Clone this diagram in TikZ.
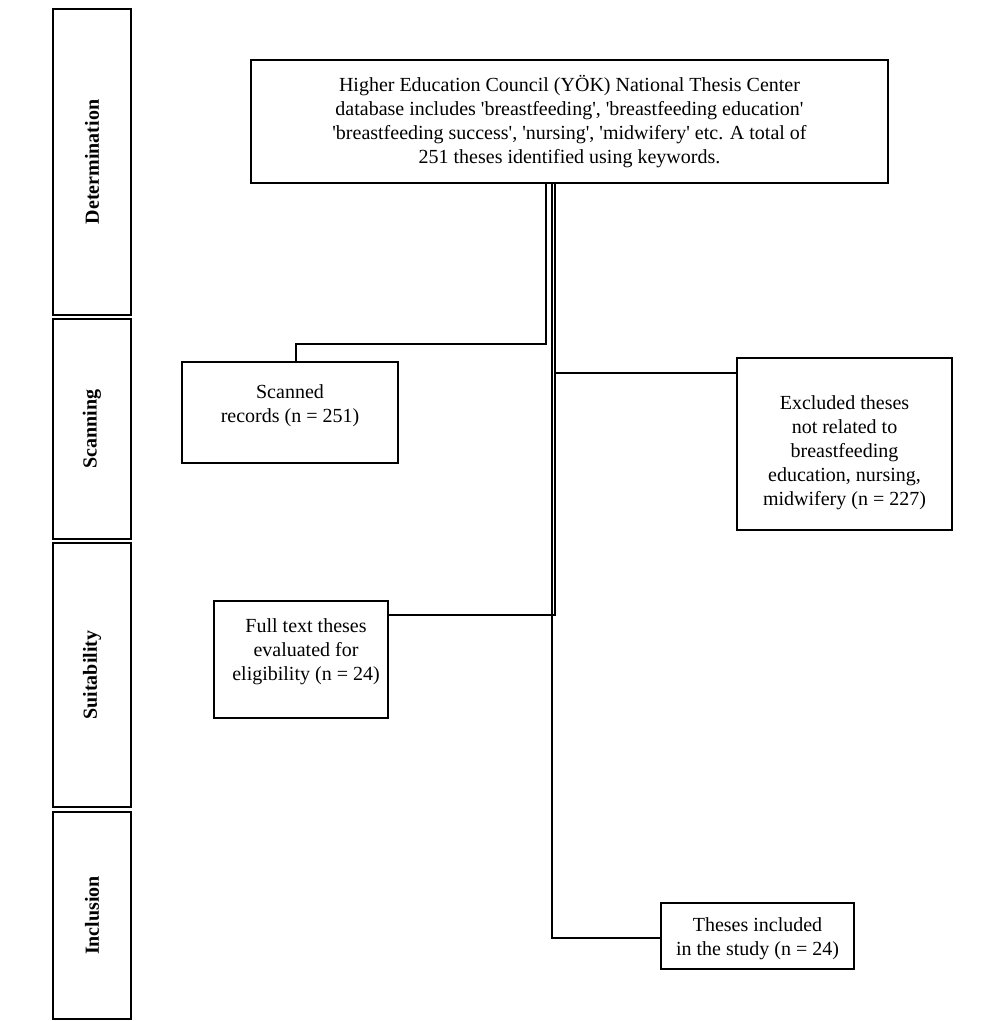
\documentclass[tikz,border=0pt]{standalone}
\usepackage{fontspec}
\setmainfont{Liberation Serif}
\usetikzlibrary{positioning, calc}

\newcommand{\sq}{\textquotesingle}

\begin{document}
\begin{tikzpicture}[x=0.5pt, y=-0.5pt,
        stagebox/.style={draw, line width=1.2pt, rotate=90, inner sep=0pt,
            font=\bfseries\fontsize{10}{12}\selectfont, minimum height=39pt},
        flowbox/.style={draw, line width=1.2pt, align=center, inner sep=0pt,
            font=\fontsize{10}{12}\selectfont},
        link/.style={line width=1pt}]
    \useasboundingbox (0,0) rectangle (1000,1021);
    % stages on the left
    \node[stagebox, minimum width=153pt] (determination) at (92,162) {Determination};
    \node[stagebox, minimum width=110pt] (scanning) at (92,429) {Scanning};
    \node[stagebox, minimum width=132pt] (suitability) at (92,675) {Suitability};
    \node[stagebox, minimum width=103.5pt] (inclusion) at (92,915.5) {Inclusion};
    % flow boxes
    \node[flowbox, minimum width=318.5pt, minimum height=61.5pt] (top) at (569.5,121.5)
        {Higher Education Council (YÖK) National Thesis Center\\
         database includes \sq breastfeeding\sq, \sq breastfeeding education\sq\\
         \sq breastfeeding success\sq, \sq nursing\sq, \sq midwifery\sq\ etc. A total of\\
         251 theses identified using keywords.};
    \node[flowbox, minimum width=108pt, minimum height=50.5pt] (scanned) at (290,412.5)
        {Scanned\\ records (n = 251)\rule[-9pt]{0pt}{9pt}};
    \node[flowbox, minimum width=107.5pt, minimum height=86pt] (excluded) at (844.5,444)
        {\rule{0pt}{16pt}Excluded theses\\ not related to\\ breastfeeding\\ education, nursing,\\ midwifery (n = 227)};
    \node[flowbox, minimum width=87pt, minimum height=58.5pt] (fulltext) at (301,659.5)
        {\hspace*{5pt}Full text theses\\ \hspace*{5pt}evaluated for\\ \hspace*{5pt}eligibility (n = 24)\rule[-10pt]{0pt}{10pt}};
    \node[flowbox, minimum width=96.5pt, minimum height=33pt] (included) at (757.5,936)
        {\rule{0pt}{9.5pt}Theses included\\ in the study (n = 24)};
    % trunk lines under the top box
    \coordinate (trunkA) at ($(top.south)+(-23.5,0)$);
    \coordinate (trunkB) at ($(top.south)+(-17.5,0)$);
    \coordinate (trunkC) at ($(top.south)+(-14.5,0)$);
    \draw[link] (trunkA) -- ++(0,160) -| ($(scanned.north)+(6,0)$);
    \draw[link] (trunkC) |- ($(excluded.west)+(0,-71)$);
    \draw[link] (trunkC) |- ($(fulltext.east)+(0,-45)$);
    \draw[link] (trunkB) |- ($(included.west)+(0,2)$);
\end{tikzpicture}
\end{document}
